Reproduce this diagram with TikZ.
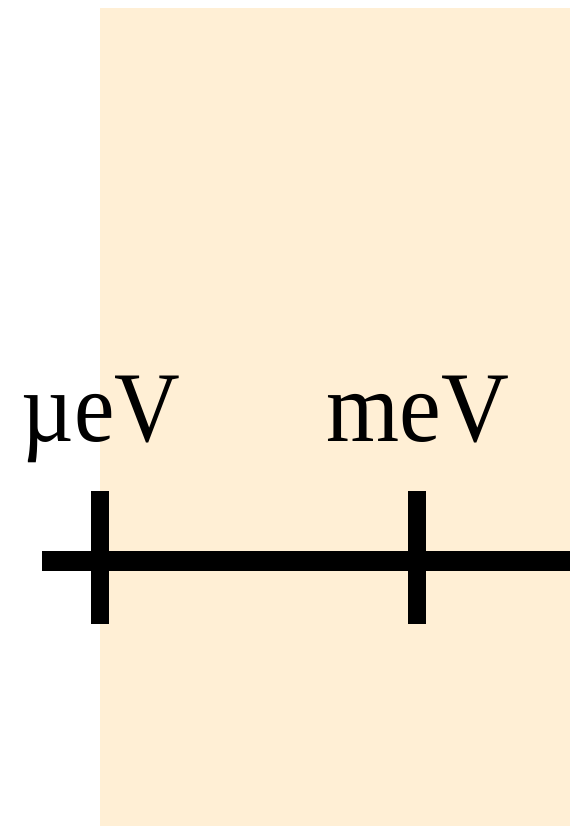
\documentclass[tikz,border=0pt]{standalone}
\usepackage{fontspec}
\setmainfont{Liberation Serif}
\definecolor{band}{RGB}{255,239,213}
\begin{document}
\begin{tikzpicture}[x=1pt,y=-1pt,
  lab/.style={font=\fontsize{100}{100}\selectfont, inner sep=0pt, anchor=base},
  tickline/.style={line width=18pt},
  axisline/.style={line width=20pt}]
\useasboundingbox (0,0) rectangle (570,827);
\fill[band] (100,8) rectangle (570,826);
\coordinate (axL) at (42,561);
\coordinate (axR) at (570,561);
\draw[axisline] (axL) -- (axR);
\coordinate (t1top) at (100,491);
\coordinate (t1bot) at (100,624);
\coordinate (t2top) at (416.5,491);
\coordinate (t2bot) at (416.5,624);
\draw[tickline] (t1top) -- (t1bot);
\draw[tickline] (t2top) -- (t2bot);
\node[lab] (mu) at (101,441) {\scalebox{0.91}[1]{µeV}};
\node[lab] (me) at (417.5,441) {\scalebox{0.94}[1]{meV}};
\end{tikzpicture}
\end{document}
